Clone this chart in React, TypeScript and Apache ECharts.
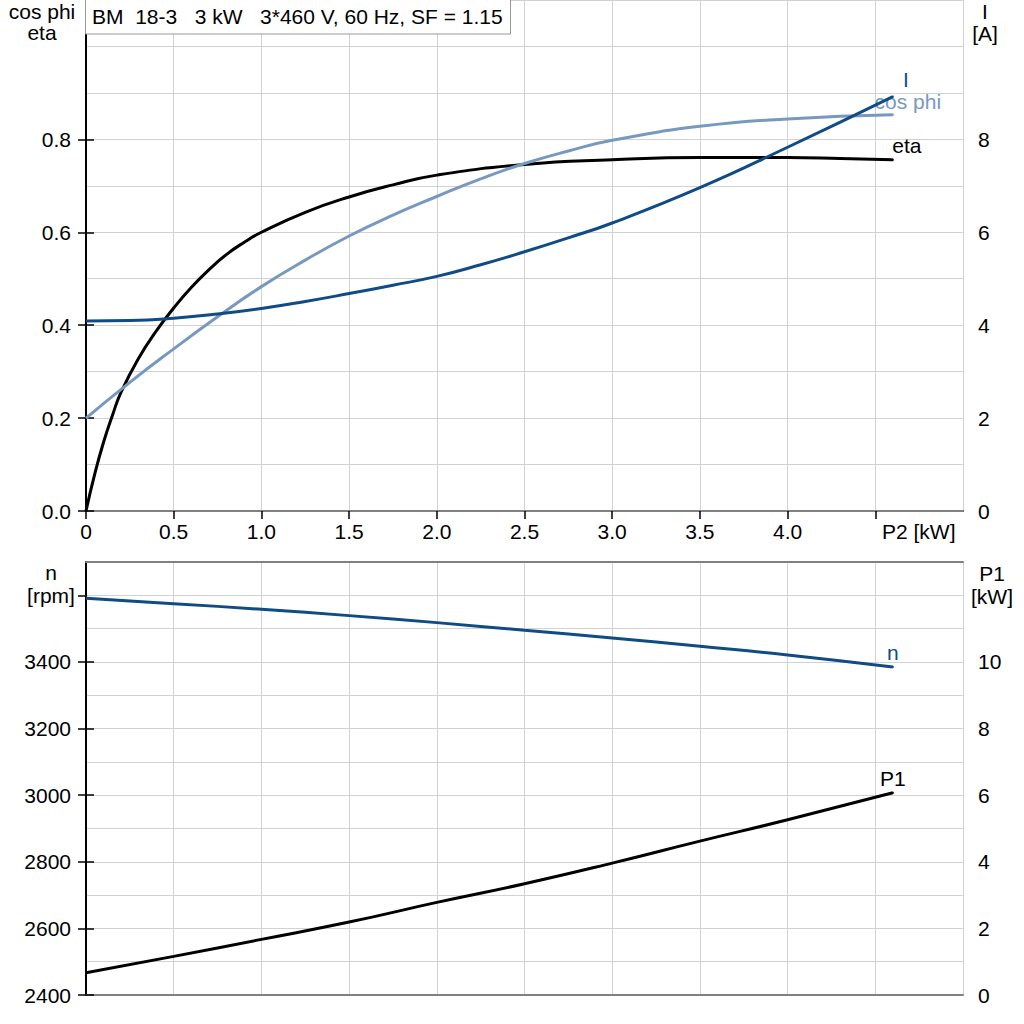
import React, { useEffect, useRef } from "react";
import * as echarts from "echarts";

// ---- data ----
const P2_ETA = [0, 0.05, 0.1, 0.15, 0.2, 0.3, 0.4, 0.5, 0.6, 0.7, 0.8, 0.9, 1.0, 1.25, 1.5, 1.75, 2.0, 2.5, 3.0, 3.5, 4.0, 4.3, 4.6];
const ETA = [0, 0.08, 0.148, 0.205, 0.256, 0.329, 0.387, 0.437, 0.481, 0.519, 0.552, 0.578, 0.6, 0.643, 0.676, 0.702, 0.723, 0.746, 0.756, 0.761, 0.761, 0.759, 0.756];

const P2_TOP = [0, 0.25, 0.5, 0.75, 1.0, 1.25, 1.5, 1.75, 2.0, 2.25, 2.5, 2.75, 3.0, 3.5, 4.0, 4.6];
const COS_PHI = [0.2, 0.277, 0.349, 0.418, 0.483, 0.54, 0.592, 0.637, 0.677, 0.715, 0.748, 0.775, 0.798, 0.828, 0.844, 0.853];
const CURRENT = [4.09, 4.1, 4.15, 4.24, 4.36, 4.51, 4.68, 4.86, 5.05, 5.3, 5.58, 5.88, 6.2, 6.96, 7.83, 8.92];

const P2_BOTTOM = [0, 0.5, 1.0, 1.5, 2.0, 2.5, 3.0, 3.5, 4.0, 4.6];
const SPEED = [3591, 3575, 3558, 3539, 3518, 3495, 3472, 3447, 3421, 3385];
const P1 = [0.67, 1.16, 1.67, 2.19, 2.78, 3.34, 3.96, 4.62, 5.26, 6.07];

const X_TICKS = [0, 0.5, 1.0, 1.5, 2.0, 2.5, 3.0, 3.5, 4.0, 4.5];
const X_LABELS = [0, 0.5, 1.0, 1.5, 2.0, 2.5, 3.0, 3.5, 4.0];
const LEFT_TOP_TICKS = [0, 0.2, 0.4, 0.6, 0.8];
const RIGHT_TOP_TICKS = [0, 2, 4, 6, 8];
const LEFT_BOTTOM_TICKS = [2400, 2600, 2800, 3000, 3200, 3400, 3600];
const LEFT_BOTTOM_LABELS = [2400, 2600, 2800, 3000, 3200, 3400];
const RIGHT_BOTTOM_TICKS = [0, 2, 4, 6, 8, 10];

const TITLE = "BM  18-3   3 kW   3*460 V, 60 Hz, SF = 1.15";

const FONT = "Liberation Sans";
const FS = 21;
const DARK = "#0f4c86";
const LIGHT = "#7799bf";
const GRID = "#d2d2d2";

function pairs(xs: number[], ys: number[], label: any, color: string) {
  return xs.map((x, i) =>
    i === xs.length - 1
      ? { value: [x, ys[i]], symbol: "circle", symbolSize: 2, itemStyle: { color }, label }
      : [x, ys[i]]
  );
}

function endLabel(text: string, color: string, dx: number, dy: number) {
  return {
    show: true,
    position: "top",
    distance: 3,
    offset: [dx, dy],
    formatter: text,
    color,
    fontFamily: FONT,
    fontSize: FS,
  };
}

export default function App() {
  const ref = useRef<HTMLDivElement>(null);
  useEffect(() => {
    if (!ref.current) return;
    const chart = echarts.init(ref.current, undefined, { renderer: "svg" });
    const labelStyle = { color: "#000", fontFamily: FONT, fontSize: FS };
    const blackLine = { show: true, lineStyle: { color: "#000", width: 2 } };
    const grayLine = { show: true, lineStyle: { color: "#808080", width: 2 } };
    const tick = (vals: number[]) => ({
      show: true,
      length: 8,
      customValues: vals,
      lineStyle: { color: "#000", width: 1.5 },
    });
    const hiddenGrid = (extra: any) => ({
      type: "value",
      axisLine: { show: false },
      axisTick: { show: false },
      axisLabel: { show: false },
      splitLine: { show: true, lineStyle: { color: GRID, width: 1 } },
      ...extra,
    });
    const lineSeries = (name: string, xi: number, yi: number, xs: number[], ys: number[], color: string, dx: number, dy: number, z: number) => ({
      name,
      type: "line",
      xAxisIndex: xi,
      yAxisIndex: yi,
      smooth: 0.5,
      symbol: "none",
      showSymbol: true,
      lineStyle: { color, width: 3 },
      itemStyle: { color },
      data: pairs(xs, ys, endLabel(name, color, dx, dy), color),
      z,
    });

    const option: any = {
      animation: false,
      backgroundColor: "#fff",
      grid: [
        { left: 86, top: 0, width: 877, height: 511 },
        { left: 86, top: 562, width: 877, height: 433 },
      ],
      xAxis: [
        {
          type: "value",
          gridIndex: 0,
          position: "bottom",
          min: 0,
          max: 5,
          interval: 0.5,
          axisLine: blackLine,
          axisTick: tick(X_TICKS),
          axisLabel: {
            ...labelStyle,
            margin: 10,
            customValues: X_LABELS,
            formatter: (v: number) => (v === 0 ? "0" : v.toFixed(1)),
          },
          splitLine: { show: false },
        },
        hiddenGrid({ gridIndex: 0, position: "top", min: 0, max: 5, interval: 0.5, axisLine: grayLine }),
        hiddenGrid({ gridIndex: 1, position: "bottom", min: 0, max: 5, interval: 0.5, axisLine: grayLine }),
        {
          type: "value",
          gridIndex: 1,
          position: "top",
          min: 0,
          max: 5,
          axisLine: grayLine,
          axisTick: { show: false },
          axisLabel: { show: false },
          splitLine: { show: false },
        },
      ],
      yAxis: [
        {
          type: "value",
          gridIndex: 0,
          position: "left",
          min: 0,
          max: 1.1,
          interval: 0.1,
          axisLine: blackLine,
          axisTick: tick(LEFT_TOP_TICKS),
          axisLabel: { ...labelStyle, margin: 15, customValues: LEFT_TOP_TICKS, formatter: (v: number) => v.toFixed(1) },
          splitLine: { show: false },
        },
        {
          type: "value",
          gridIndex: 0,
          position: "right",
          min: 0,
          max: 11,
          interval: 1,
          axisLine: blackLine,
          axisTick: tick(RIGHT_TOP_TICKS),
          axisLabel: { ...labelStyle, margin: 15, customValues: RIGHT_TOP_TICKS, formatter: (v: number) => String(v) },
          splitLine: { show: false },
        },
        hiddenGrid({ gridIndex: 0, min: 0, max: 1.1, interval: 0.1 }),
        {
          type: "value",
          gridIndex: 1,
          position: "left",
          min: 2400,
          max: 3700,
          interval: 100,
          axisLine: blackLine,
          axisTick: tick(LEFT_BOTTOM_TICKS),
          axisLabel: { ...labelStyle, margin: 15, customValues: LEFT_BOTTOM_LABELS, formatter: (v: number) => String(v) },
          splitLine: { show: false },
        },
        {
          type: "value",
          gridIndex: 1,
          position: "right",
          min: 0,
          max: 13,
          interval: 1,
          axisLine: blackLine,
          axisTick: tick(RIGHT_BOTTOM_TICKS),
          axisLabel: { ...labelStyle, margin: 15, customValues: RIGHT_BOTTOM_TICKS, formatter: (v: number) => String(v) },
          splitLine: { show: false },
        },
        hiddenGrid({ gridIndex: 1, min: 2400, max: 3700, interval: 100 }),
      ],
      series: [
        lineSeries("eta", 0, 0, P2_ETA, ETA, "#000", 14, 0, 3),
        lineSeries("cos phi", 0, 0, P2_TOP, COS_PHI, LIGHT, 15, 1, 4),
        lineSeries("I", 0, 1, P2_TOP, CURRENT, DARK, 13, -3, 5),
        lineSeries("n", 2, 3, P2_BOTTOM, SPEED, DARK, 0, 0, 3),
        lineSeries("P1", 2, 4, P2_BOTTOM, P1, "#000", 0, 0, 3),
      ],
      graphic: [
        {
          type: "rect",
          shape: { x: 85.5, y: -1, width: 425, height: 35 },
          style: { fill: "#fff", stroke: "#999", lineWidth: 1 },
          z: 100,
        },
        {
          type: "text",
          x: 92,
          y: 16,
          style: { text: TITLE, fill: "#000", font: `21px "${FONT}"`, verticalAlign: "middle", align: "left" },
          z: 101,
        },
        { type: "text", x: 42, y: 11, style: { text: "cos phi", fill: "#000", font: `${FS}px "${FONT}"`, align: "center", verticalAlign: "middle" } },
        { type: "text", x: 42, y: 32, style: { text: "eta", fill: "#000", font: `${FS}px "${FONT}"`, align: "center", verticalAlign: "middle" } },
        { type: "text", x: 985, y: 11, style: { text: "I", fill: "#000", font: `${FS}px "${FONT}"`, align: "center", verticalAlign: "middle" } },
        { type: "text", x: 985, y: 33, style: { text: "[A]", fill: "#000", font: `${FS}px "${FONT}"`, align: "center", verticalAlign: "middle" } },
        { type: "text", x: 882, y: 521, style: { text: "P2 [kW]", fill: "#000", font: `${FS}px "${FONT}"`, align: "left", verticalAlign: "top" } },
        { type: "text", x: 51, y: 572, style: { text: "n", fill: "#000", font: `${FS}px "${FONT}"`, align: "center", verticalAlign: "middle" } },
        { type: "text", x: 51, y: 595, style: { text: "[rpm]", fill: "#000", font: `${FS}px "${FONT}"`, align: "center", verticalAlign: "middle" } },
        { type: "text", x: 992, y: 573, style: { text: "P1", fill: "#000", font: `${FS}px "${FONT}"`, align: "center", verticalAlign: "middle" } },
        { type: "text", x: 992, y: 596, style: { text: "[kW]", fill: "#000", font: `${FS}px "${FONT}"`, align: "center", verticalAlign: "middle" } },
      ],
    };
    chart.setOption(option);
    return () => chart.dispose();
  }, []);
  return (
    <div
      ref={ref}
      style={{ position: "fixed", left: 0, top: 0, width: 1024, height: 1024, background: "#fff" }}
    />
  );
}
